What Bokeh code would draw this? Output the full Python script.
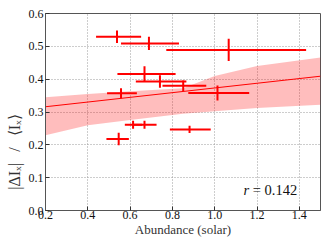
from bokeh.plotting import figure
from bokeh.models import ColumnDataSource, Label, FixedTicker, NumeralTickFormatter, Range1d
from bokeh.embed import file_html
from bokeh.resources import INLINE

# data: abundance (solar) with x errors, variability with y errors
abund = [0.538, 0.689, 1.066, 0.668, 0.741, 0.851, 1.013, 0.557, 0.614, 0.668, 0.881, 0.546]
abund_lo = [0.439, 0.557, 0.771, 0.540, 0.627, 0.753, 0.875, 0.491, 0.575, 0.617, 0.788, 0.488]
abund_hi = [0.652, 0.831, 1.432, 0.815, 0.866, 0.960, 1.163, 0.632, 0.657, 0.725, 0.981, 0.594]
var = [0.529, 0.509, 0.489, 0.416, 0.393, 0.380, 0.358, 0.357, 0.261, 0.261, 0.247, 0.218]
var_err = [0.019, 0.020, 0.034, 0.023, 0.019, 0.016, 0.023, 0.015, 0.012, 0.012, 0.011, 0.019]

# linear fit and confidence band
fit_x = [0.2, 1.5]
fit_y = [0.316, 0.409]
band_x = [0.2, 0.4, 0.6, 0.85, 1.0, 1.2, 1.5]
band_hi = [0.345, 0.355, 0.363, 0.372, 0.410, 0.440, 0.466]
band_lo = [0.229, 0.260, 0.276, 0.295, 0.302, 0.312, 0.322]

x_ticks = [0.2, 0.4, 0.6, 0.8, 1.0, 1.2, 1.4]
y_ticks = [0.0, 0.1, 0.2, 0.3, 0.4, 0.5, 0.6]

FONT = "Liberation Serif"

p = figure(width=327, height=245, output_backend="svg", toolbar_location=None,
           x_range=Range1d(0.2, 1.5), y_range=Range1d(0.0, 0.6),
           min_border_left=45, min_border_right=7, min_border_top=13, min_border_bottom=35)
p.outline_line_color = "#555555"
p.outline_line_width = 1

for ax in (p.xaxis, p.yaxis):
    ax.axis_line_color = "#555555"
    ax.major_tick_in = 4
    ax.major_tick_out = 0
    ax.minor_tick_line_color = None
    ax.major_tick_line_color = "#333333"
    ax.major_label_text_font = FONT
    ax.major_label_text_font_size = "12px"
    ax.major_label_text_color = "#111111"
    ax.axis_label_text_font = FONT
    ax.axis_label_text_font_style = "normal"
    ax.axis_label_text_color = "#333333"
    ax.major_label_standoff = 0
    ax.formatter = NumeralTickFormatter(format="0.0")

p.xaxis.ticker = FixedTicker(ticks=x_ticks)
p.yaxis.ticker = FixedTicker(ticks=y_ticks)
p.yaxis.major_label_standoff = 2
p.xaxis.axis_label = "Abundance (solar)"
p.xaxis.axis_label_text_font_size = "13px"
p.xaxis.axis_label_standoff = 0
p.yaxis.axis_label = "|ΔIₓ|\u2002\u2009/\u2009\u2002⟨Iₓ⟩\u2003\u2003\u2003\u2003\u2003"
p.yaxis.axis_label_text_font_size = "16px"
p.yaxis.axis_label_standoff = 3

p.grid.grid_line_color = "#9a9a9a"
p.grid.grid_line_dash = "1 2"
p.grid.grid_line_width = 1
p.xgrid.ticker = FixedTicker(ticks=x_ticks)
p.ygrid.ticker = FixedTicker(ticks=y_ticks)

band = ColumnDataSource(dict(x=band_x, lo=band_lo, hi=band_hi))
p.varea(x="x", y1="lo", y2="hi", source=band, fill_color="#ff0000", fill_alpha=0.26)
p.line(fit_x, fit_y, line_color="#ff0000", line_width=1)

src = ColumnDataSource(dict(
    x=abund, xl=abund_lo, xh=abund_hi, y=var,
    yl=[v - e for v, e in zip(var, var_err)],
    yh=[v + e for v, e in zip(var, var_err)],
))
p.segment(x0="xl", x1="xh", y0="y", y1="y", source=src, line_color="#ff0000", line_width=2)
p.segment(x0="x", x1="x", y0="yl", y1="yh", source=src, line_color="#ff0000", line_width=2)

p.add_layout(Label(x=1.39, y=0.061, text="= 0.142", text_align="right", text_baseline="middle",
                   text_font=FONT, text_font_size="14.5px", text_color="#111111"))
p.add_layout(Label(x=1.39, y=0.061, x_offset=-48, text="r", text_align="right", text_baseline="middle",
                   text_font=FONT, text_font_size="14.5px", text_font_style="italic", text_color="#111111"))

open("out.html", "w").write(file_html(p, INLINE))
